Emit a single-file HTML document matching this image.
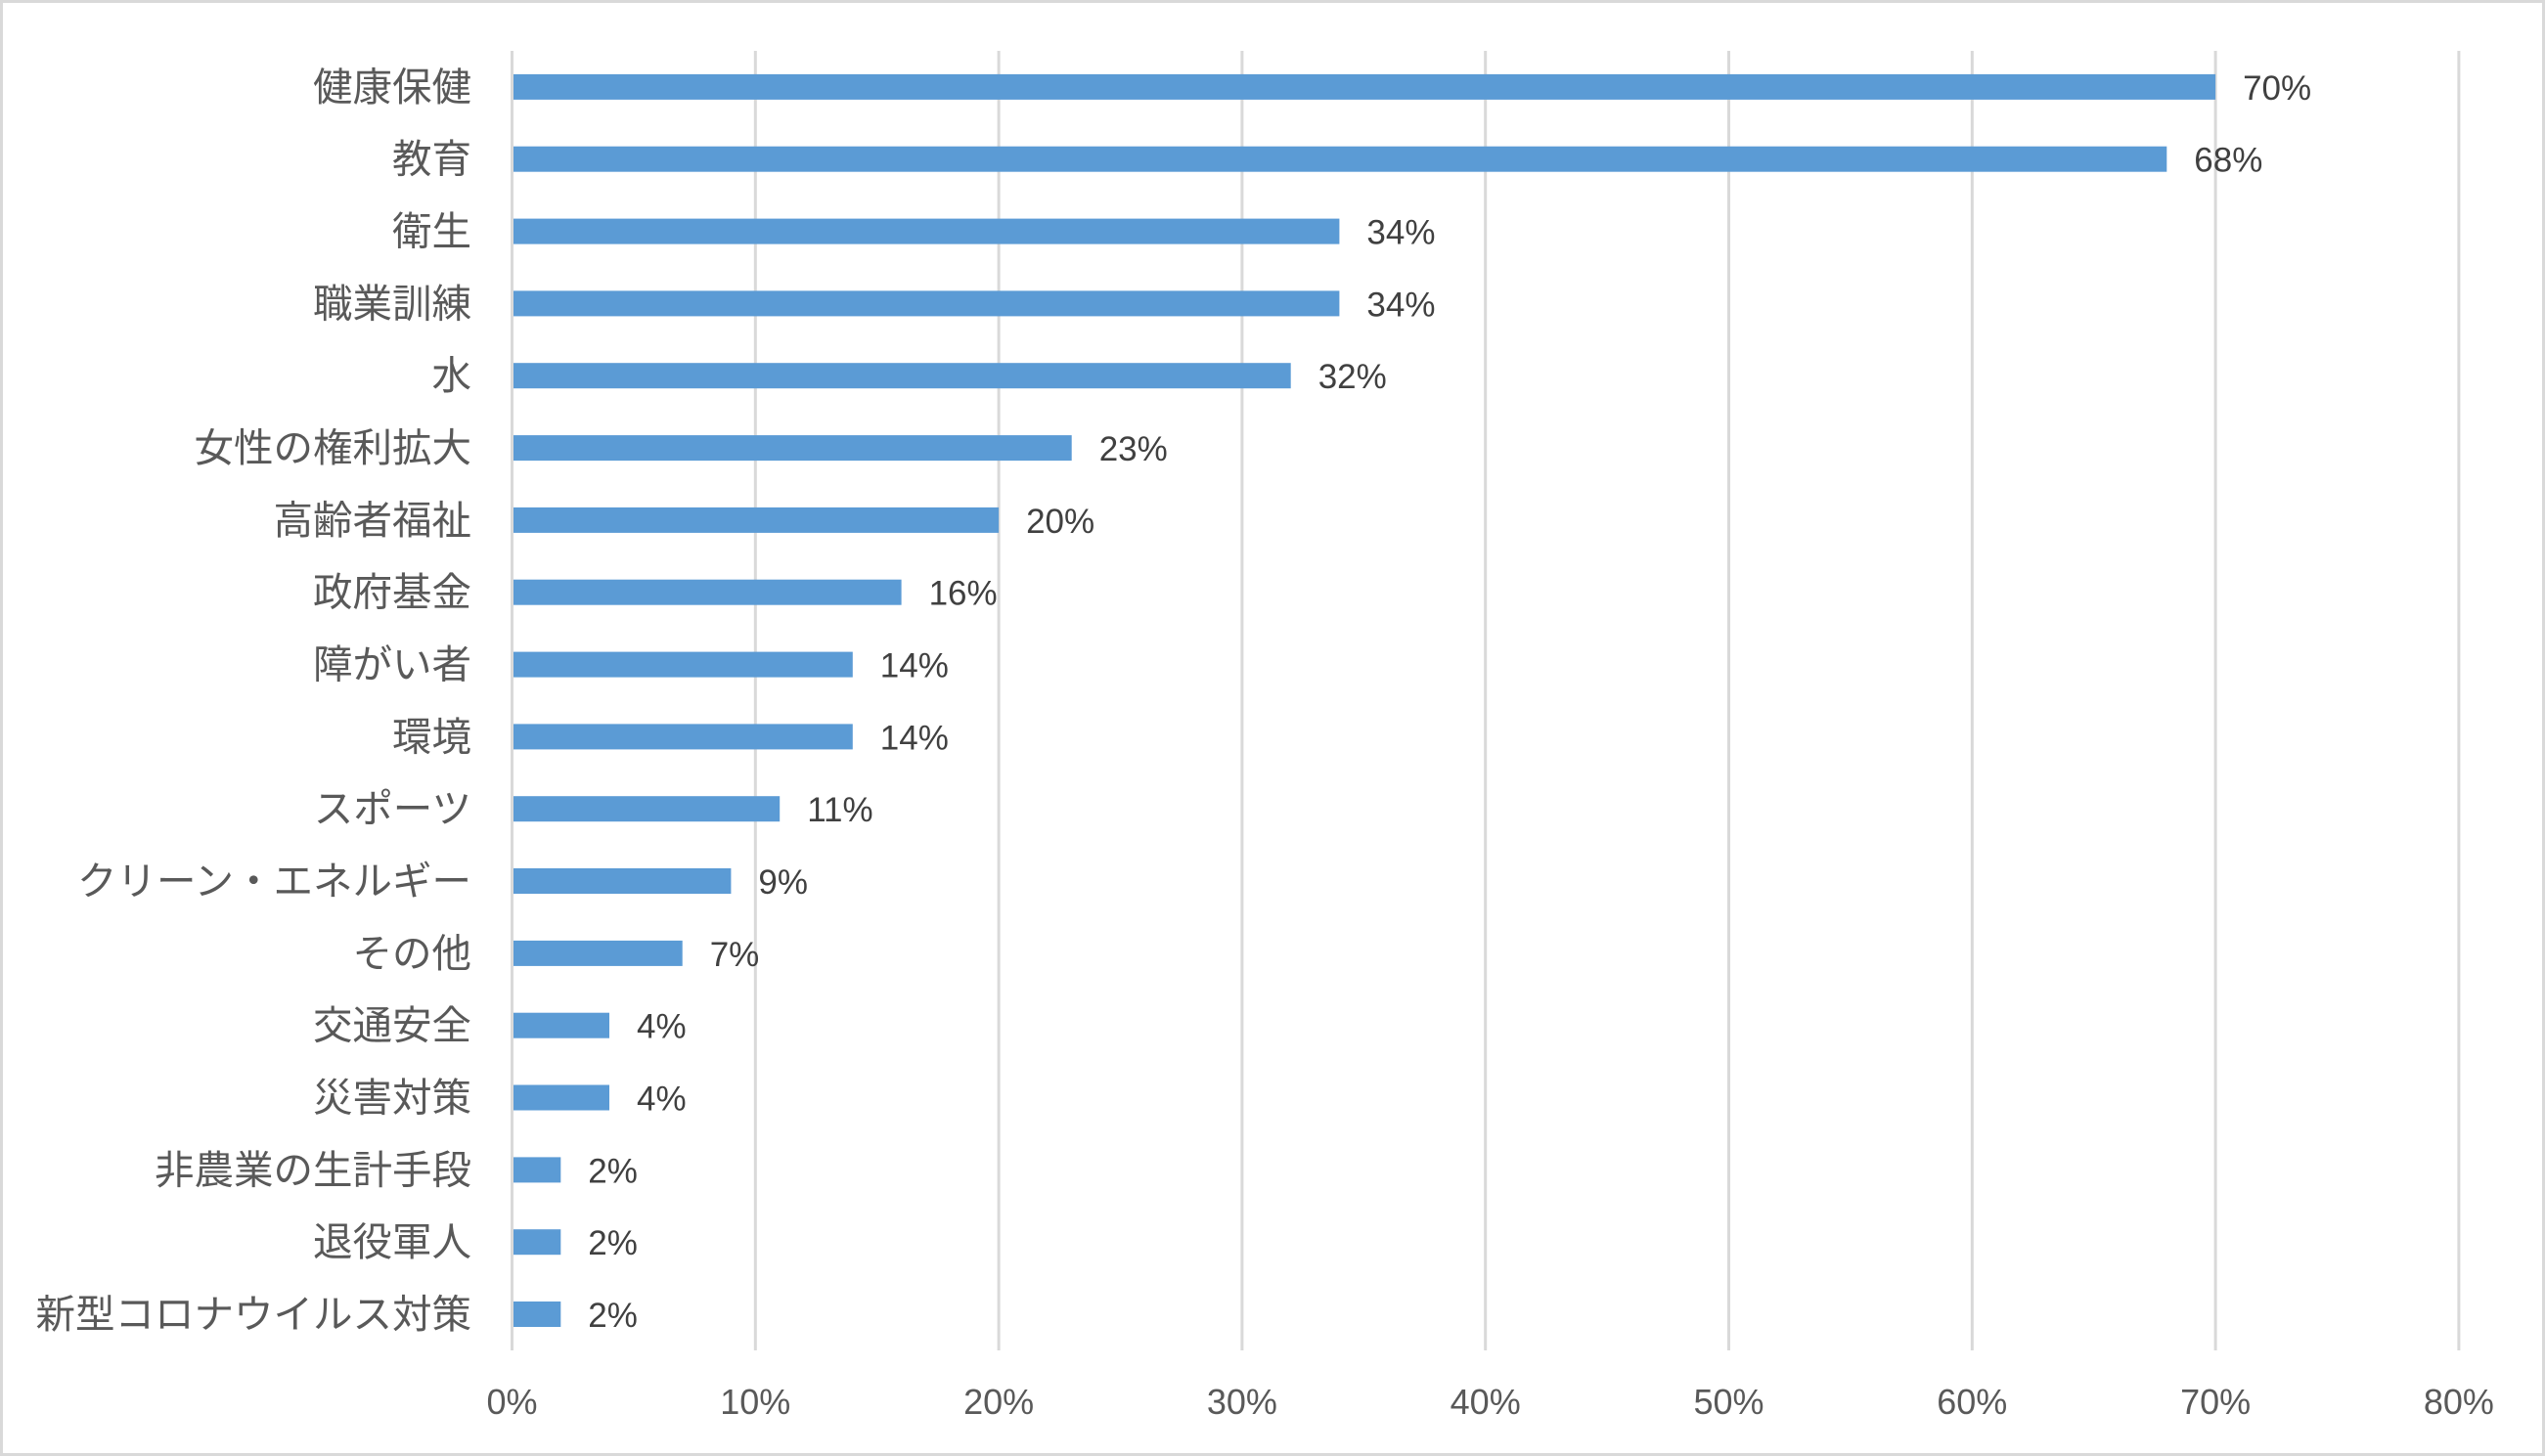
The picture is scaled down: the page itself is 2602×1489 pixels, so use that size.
<!DOCTYPE html>
<html><head><meta charset="utf-8"><style>
html,body{margin:0;padding:0;background:#fff;}
svg{display:block;}
</style></head><body>
<svg width="2602" height="1489" viewBox="0 0 2602 1489" xmlns="http://www.w3.org/2000/svg">
<rect x="1.5" y="1.5" width="2599" height="1486" fill="#fff" stroke="#d9d9d9" stroke-width="3"/>
<g stroke="#d9d9d9" stroke-width="3">
<line x1="523.5" y1="52" x2="523.5" y2="1381"/>
<line x1="772.3" y1="52" x2="772.3" y2="1381"/>
<line x1="1021.1" y1="52" x2="1021.1" y2="1381"/>
<line x1="1269.9" y1="52" x2="1269.9" y2="1381"/>
<line x1="1518.7" y1="52" x2="1518.7" y2="1381"/>
<line x1="1767.5" y1="52" x2="1767.5" y2="1381"/>
<line x1="2016.3" y1="52" x2="2016.3" y2="1381"/>
<line x1="2265.1" y1="52" x2="2265.1" y2="1381"/>
<line x1="2513.9" y1="52" x2="2513.9" y2="1381"/>
</g>
<g font-family="'Liberation Sans','Noto Sans CJK JP',sans-serif" font-size="36" fill="#595959" text-anchor="middle">
<text x="523.5" y="1446">0%</text>
<text x="772.3" y="1446">10%</text>
<text x="1021.1" y="1446">20%</text>
<text x="1269.9" y="1446">30%</text>
<text x="1518.7" y="1446">40%</text>
<text x="1767.5" y="1446">50%</text>
<text x="2016.3" y="1446">60%</text>
<text x="2265.1" y="1446">70%</text>
<text x="2513.9" y="1446">80%</text>
</g>
<g id="rows" font-family="'Liberation Sans','Noto Sans CJK JP',sans-serif"></g>
</svg>
<script>
var d=[["健康保健",70],["教育",68],["衛生",34],["職業訓練",34],["水",32],["女性の権利拡大",23],["高齢者福祉",20],["政府基金",16],["障がい者",14],["環境",14],["スポーツ",11],["クリーン・エネルギー",9],["その他",7],["交通安全",4],["災害対策",4],["非農業の生計手段",2],["退役軍人",2],["新型コロナウイルス対策",2]];
var g=document.getElementById('rows'),h="";
for(var i=0;i<d.length;i++){
 var c=52+73.83*(i+0.5),w=d[i][1]*24.88;
 h+='<rect x="525" y="'+(c-13).toFixed(1)+'" width="'+(w-1.5).toFixed(1)+'" height="26" fill="#5b9bd5"/>';
 h+='<text x="482" y="'+(c+14).toFixed(1)+'" font-size="40.5" fill="#595959" text-anchor="end">'+d[i][0]+'</text>';
 h+='<text x="'+(523.5+w+28).toFixed(1)+'" y="'+(c+13).toFixed(1)+'" font-size="35" fill="#404040">'+d[i][1]+'%</text>';
}
g.innerHTML=h;
</script>
</body></html>
